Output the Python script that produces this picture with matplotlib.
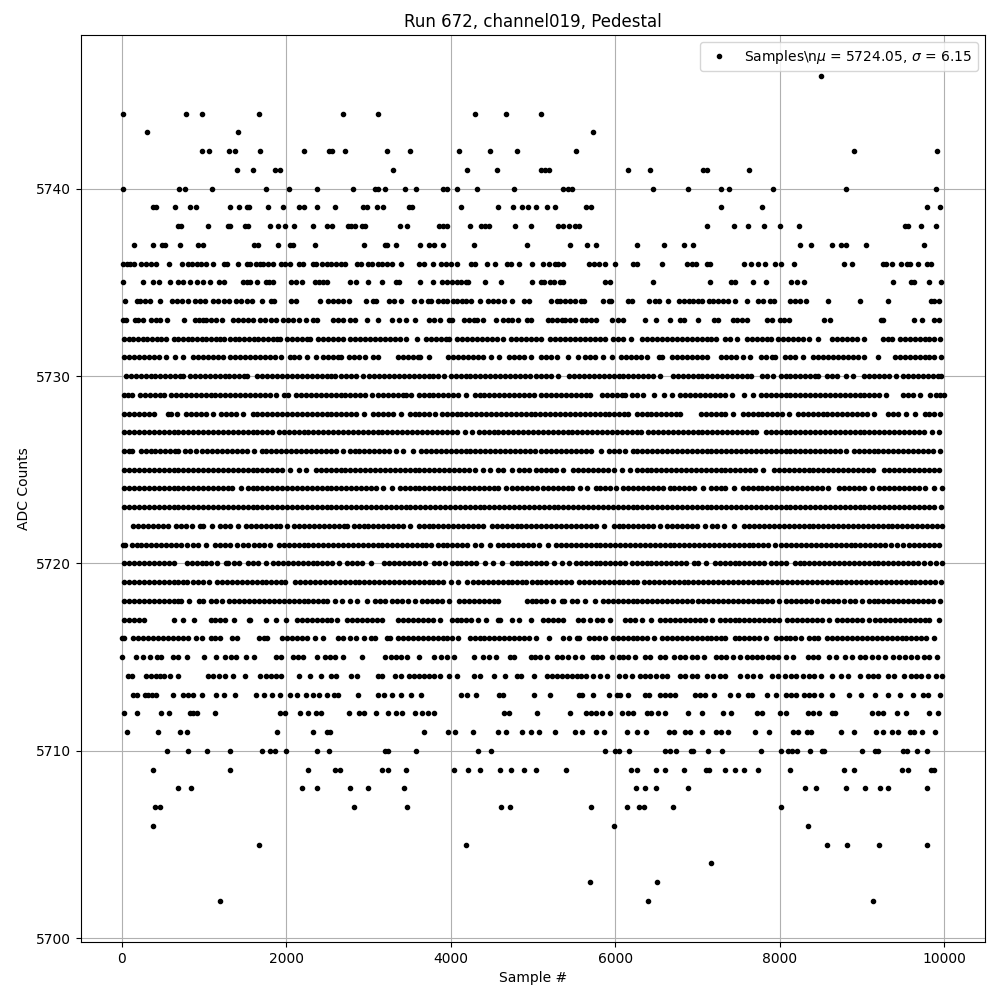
import matplotlib
matplotlib.use("Agg")
import matplotlib.pyplot as plt

# Sample numbers are stored in tens of samples, one list per ADC level.
adc_5746 = [850.5]
adc_5744 = [1, 78, 97, 167, 269, 312, 430, 467, 510]
adc_5743 = [31, 141, 573]
adc_5742 = [97, 106, 130, 138, 168, 221, 252, 256, 271, 322, 350, 410, 448, 481, 552, 890, 991]
adc_5741 = [140, 160, 186, 192, 330, 420, 456, 510, 514, 519, 615, 642, 707, 712, 762]
adc_5740 = [1, 70, 77, 110, 175, 203, 238, 281, 308, 312, 320, 344, 358, 391, 396, 408, 432, 477, 537, 543, 548, 646, 689, 729, 738, 792, 881, 990]
adc_5739 = [38, 42, 65, 83, 90, 132, 143, 152, 155, 178, 196, 215, 221, 238, 259, 293, 298, 310, 318, 349, 353, 413, 458, 476, 487, 494, 504, 517, 527, 564, 570, 728, 778, 979, 995]
adc_5738 = [68, 72, 105, 129, 132, 150, 154, 180, 190, 198, 209, 232, 250, 256, 275, 279, 283, 292, 296, 338, 347, 386, 391, 396, 423, 437, 442, 446, 478, 498, 531, 537, 544, 551, 556, 712, 744, 761, 781, 800, 823, 952, 956, 972, 990]
adc_5737 = [15, 38, 49, 53, 71, 93, 99, 161, 166, 190, 204, 208, 235, 295, 320, 323, 333, 363, 373, 380, 390, 428, 493, 545, 566, 577, 626, 659, 683, 694, 825, 838, 864, 874, 880, 905, 975]
adc_5736 = [2, 6, 10, 15, 24, 30, 35, 42, 57, 73, 80, 85, 91, 96, 102, 111, 124, 128, 141, 152, 156, 163, 168, 172, 178, 184, 194, 199, 204, 216, 220, 232, 236, 244, 249, 255, 260, 267, 272, 286, 291, 299, 304, 311, 317, 323, 329, 340, 362, 368, 378, 388, 394, 400, 408, 425, 429, 444, 454, 468, 473, 483, 499, 512, 520, 527, 531, 537, 568, 574, 580, 588, 600, 621, 627, 657, 687, 693, 698, 711, 715, 757, 765, 774, 782, 794, 801, 817, 878, 888, 926, 929, 936, 947, 955, 958, 968, 979, 984]
adc_5735 = [2, 26, 38, 45, 59, 69, 74, 83, 92, 99, 107, 118, 124, 147, 152, 156, 164, 175, 179, 184, 206, 212, 219, 235, 240, 245, 250, 277, 285, 300, 316, 333, 337, 363, 378, 389, 396, 402, 407, 412, 418, 421, 442, 461, 499, 510, 513, 521, 526, 533, 537, 587, 594, 646, 715, 741, 746, 767, 783, 814, 821, 830, 938, 960, 963, 981, 996]
adc_5734 = [4, 18, 22, 28, 34, 47, 61, 67, 73, 80, 89, 95, 101, 111, 117, 124, 131, 139, 145, 152, 158, 170, 182, 185, 206, 212, 241, 251, 257, 263, 269, 276, 297, 305, 309, 325, 331, 339, 355, 364, 372, 376, 384, 390, 396, 403, 408, 414, 418, 425, 436, 445, 451, 458, 465, 475, 489, 495, 522, 529, 533, 539, 545, 551, 558, 562, 585, 592, 595, 616, 620, 641, 648, 653, 664, 677, 684, 690, 695, 701, 705, 714, 719, 725, 731, 737, 745, 760, 774, 780, 788, 793, 812, 818, 824, 832, 859, 897, 931, 984, 988, 993]
adc_5733 = [1, 5, 16, 20, 26, 36, 42, 47, 55, 76, 89, 94, 99, 103, 109, 115, 122, 135, 141, 148, 154, 160, 168, 174, 182, 187, 196, 202, 208, 215, 224, 232, 238, 257, 263, 269, 277, 284, 298, 311, 329, 337, 345, 357, 373, 380, 387, 398, 402, 416, 422, 428, 432, 439, 455, 463, 469, 475, 482, 493, 498, 518, 523, 529, 535, 539, 545, 551, 559, 564, 570, 577, 596, 603, 609, 636, 650, 667, 679, 684, 701, 720, 725, 743, 748, 754, 760, 784, 791, 800, 805, 811, 854, 861, 923, 926, 963, 973, 988, 993]
adc_5732 = [3, 9, 14, 20, 26, 31, 37, 43, 48, 54, 63, 69, 75, 80, 86, 92, 98, 103, 109, 115, 120, 124, 132, 138, 143, 149, 155, 161, 166, 172, 178, 184, 189, 193, 201, 207, 213, 219, 225, 229, 239, 245, 251, 257, 263, 269, 278, 284, 290, 296, 302, 308, 314, 320, 326, 332, 338, 345, 359, 370, 376, 382, 388, 394, 398, 408, 414, 420, 426, 432, 438, 444, 450, 456, 464, 473, 479, 485, 491, 497, 504, 510, 521, 527, 533, 539, 545, 551, 557, 563, 569, 575, 581, 587, 597, 603, 610, 619, 633, 639, 645, 651, 657, 663, 669, 675, 681, 687, 693, 699, 705, 711, 717, 722, 734, 740, 748, 760, 766, 772, 778, 784, 789, 798, 804, 810, 816, 822, 828, 835, 847, 864, 870, 876, 882, 888, 894, 902, 925, 931, 937, 946, 952, 958, 964, 970, 976, 982, 988, 995]
adc_5731 = [3, 9, 15, 21, 27, 33, 39, 45, 54, 65, 75, 87, 93, 99, 105, 111, 117, 123, 132, 138, 144, 150, 156, 162, 168, 174, 180, 186, 194, 204, 210, 216, 225, 236, 245, 251, 257, 263, 267, 276, 282, 288, 296, 306, 312, 336, 342, 348, 354, 360, 363, 373, 397, 403, 409, 415, 421, 427, 433, 439, 449, 459, 471, 477, 483, 489, 498, 510, 516, 522, 529, 543, 555, 563, 569, 575, 585, 596, 607, 613, 619, 625, 631, 638, 653, 657, 669, 675, 681, 687, 693, 699, 705, 711, 729, 735, 741, 747, 755, 764, 777, 783, 790, 794, 806, 812, 819, 828, 841, 847, 853, 859, 865, 871, 877, 883, 889, 895, 902, 920, 940, 946, 952, 958, 964, 970, 976, 982, 987, 996]
adc_5730 = [5, 11, 17, 23, 29, 35, 41, 47, 53, 59, 65, 71, 75, 83, 89, 95, 101, 107, 113, 119, 125, 131, 137, 143, 149, 152, 165, 171, 177, 183, 189, 195, 201, 207, 213, 219, 225, 231, 237, 243, 249, 255, 259, 267, 273, 279, 285, 293, 301, 307, 313, 319, 325, 331, 337, 343, 349, 355, 361, 367, 373, 379, 385, 392, 400, 406, 412, 418, 424, 430, 436, 442, 448, 454, 460, 466, 472, 478, 484, 490, 496, 504, 510, 516, 522, 530, 544, 550, 556, 562, 568, 574, 580, 586, 592, 598, 604, 610, 616, 622, 628, 634, 640, 646, 654, 670, 676, 682, 688, 694, 700, 706, 712, 718, 724, 730, 736, 742, 748, 754, 760, 765, 778, 784, 792, 801, 807, 813, 819, 825, 831, 837, 843, 847, 857, 863, 870, 881, 889, 903, 909, 915, 921, 927, 933, 941, 950, 956, 962, 968, 974, 980, 986, 992, 996]
adc_5729 = [3, 8, 13, 22, 28, 34, 40, 46, 52, 60, 66, 72, 78, 84, 90, 96, 102, 108, 114, 120, 126, 132, 138, 144, 150, 156, 162, 168, 174, 180, 187, 197, 202, 212, 218, 224, 230, 236, 242, 248, 254, 260, 266, 272, 278, 284, 290, 296, 304, 312, 318, 324, 330, 336, 342, 346, 352, 361, 367, 373, 379, 385, 391, 397, 403, 409, 419, 429, 435, 441, 447, 453, 459, 465, 471, 477, 483, 489, 495, 501, 510, 516, 522, 528, 534, 540, 546, 552, 558, 564, 569, 584, 590, 596, 602, 608, 612, 620, 626, 634, 647, 659, 669, 679, 685, 691, 697, 703, 709, 715, 721, 727, 733, 742, 757, 767, 777, 783, 789, 795, 801, 807, 813, 819, 825, 831, 837, 843, 849, 855, 861, 867, 873, 879, 885, 891, 897, 903, 909, 915, 921, 929, 950, 956, 962, 971, 983, 990, 995, 1000]
adc_5728 = [3, 9, 15, 21, 27, 33, 39, 56, 60, 67, 78, 84, 90, 96, 102, 111, 121, 127, 133, 139, 148, 159, 165, 171, 177, 183, 189, 195, 201, 207, 213, 219, 225, 231, 237, 243, 249, 255, 261, 267, 273, 279, 285, 294, 306, 312, 318, 324, 330, 340, 350, 356, 362, 368, 374, 381, 389, 395, 401, 407, 413, 419, 425, 431, 437, 443, 449, 455, 461, 467, 473, 479, 485, 491, 497, 503, 509, 515, 521, 527, 533, 539, 545, 551, 557, 563, 569, 575, 581, 587, 593, 599, 605, 611, 616, 626, 632, 638, 644, 650, 656, 662, 668, 674, 679, 704, 710, 716, 722, 728, 734, 743, 755, 761, 767, 773, 779, 785, 791, 797, 803, 811, 822, 828, 834, 840, 846, 852, 858, 864, 870, 876, 882, 888, 894, 900, 906, 915, 932, 938, 944, 954, 965, 976, 982, 988, 995]
adc_5727 = [3, 9, 15, 21, 27, 33, 39, 45, 51, 57, 63, 69, 75, 81, 87, 93, 99, 105, 111, 117, 123, 129, 135, 141, 147, 153, 159, 165, 171, 177, 183, 191, 197, 203, 209, 215, 221, 227, 233, 239, 245, 251, 257, 263, 269, 275, 281, 287, 293, 299, 305, 311, 317, 323, 329, 335, 341, 347, 353, 359, 365, 371, 377, 383, 389, 395, 401, 407, 417, 426, 434, 440, 446, 452, 458, 464, 470, 476, 482, 488, 494, 500, 506, 512, 518, 524, 530, 536, 542, 548, 554, 560, 566, 572, 578, 584, 590, 596, 602, 608, 614, 620, 626, 631, 640, 646, 652, 658, 664, 670, 676, 682, 688, 694, 700, 706, 712, 718, 724, 730, 736, 742, 748, 754, 760, 766, 771, 783, 789, 795, 801, 807, 813, 819, 825, 831, 837, 843, 849, 855, 861, 867, 873, 879, 885, 891, 897, 903, 909, 915, 921, 927, 933, 939, 945, 951, 957, 963, 969, 975, 985, 994]
adc_5726 = [3, 9, 13, 23, 29, 35, 41, 47, 53, 59, 65, 68, 77, 83, 90, 98, 104, 110, 116, 122, 128, 134, 140, 146, 152, 161, 170, 176, 182, 188, 194, 200, 206, 212, 218, 224, 230, 236, 242, 248, 254, 260, 269, 277, 283, 289, 295, 301, 307, 313, 319, 325, 333, 342, 354, 364, 370, 376, 382, 388, 394, 400, 406, 412, 418, 424, 430, 436, 442, 448, 454, 460, 466, 472, 478, 484, 490, 496, 502, 510, 516, 522, 528, 534, 540, 546, 552, 558, 564, 571, 583, 593, 599, 605, 612, 621, 627, 633, 639, 645, 651, 657, 663, 669, 675, 681, 687, 693, 699, 705, 711, 717, 723, 729, 735, 741, 747, 753, 759, 765, 771, 777, 783, 789, 795, 801, 807, 813, 819, 825, 831, 837, 843, 849, 855, 861, 867, 873, 881, 890, 896, 902, 908, 914, 920, 926, 932, 938, 944, 950, 956, 962, 968, 974, 980, 986, 995]
adc_5725 = [3, 9, 15, 21, 27, 33, 39, 45, 51, 57, 63, 69, 75, 81, 87, 93, 99, 105, 111, 117, 123, 129, 135, 141, 147, 153, 159, 165, 171, 177, 183, 189, 195, 204, 215, 224, 236, 242, 248, 254, 260, 266, 272, 278, 284, 290, 296, 302, 308, 314, 320, 326, 332, 338, 344, 350, 356, 362, 368, 374, 380, 386, 392, 398, 404, 410, 416, 422, 430, 439, 448, 458, 464, 475, 483, 489, 495, 504, 510, 516, 522, 528, 536, 549, 555, 561, 567, 573, 579, 585, 591, 599, 608, 618, 626, 632, 638, 644, 650, 656, 662, 668, 674, 680, 686, 692, 698, 704, 710, 716, 722, 728, 734, 740, 746, 752, 758, 764, 770, 780, 793, 799, 805, 811, 817, 823, 829, 835, 841, 847, 853, 859, 865, 871, 877, 883, 889, 895, 901, 907, 913, 927, 933, 939, 945, 951, 957, 963, 969, 975, 981, 987, 994]
adc_5724 = [3, 9, 15, 21, 27, 33, 39, 45, 51, 57, 63, 69, 75, 81, 87, 93, 99, 105, 111, 117, 123, 129, 134, 145, 153, 159, 165, 171, 177, 183, 189, 195, 201, 207, 213, 219, 225, 231, 237, 243, 249, 255, 261, 267, 273, 279, 285, 291, 297, 303, 309, 318, 328, 338, 344, 350, 356, 362, 368, 374, 380, 386, 392, 398, 404, 410, 416, 422, 428, 434, 440, 446, 452, 458, 467, 475, 481, 487, 493, 499, 505, 512, 518, 524, 530, 536, 542, 548, 557, 566, 576, 582, 588, 594, 601, 610, 616, 622, 628, 634, 640, 646, 652, 658, 666, 672, 678, 684, 690, 696, 707, 716, 722, 728, 734, 744, 755, 761, 767, 773, 779, 785, 791, 797, 803, 809, 815, 821, 827, 833, 839, 845, 851, 859, 872, 878, 884, 890, 896, 902, 912, 921, 927, 933, 939, 945, 951, 957, 963, 969, 977, 987, 997]
adc_5723 = [3, 9, 15, 21, 27, 33, 39, 45, 51, 57, 63, 69, 75, 81, 87, 93, 99, 105, 111, 117, 123, 129, 135, 141, 147, 153, 159, 165, 171, 177, 183, 189, 195, 201, 207, 213, 219, 225, 231, 237, 243, 249, 255, 261, 267, 273, 279, 285, 291, 297, 303, 309, 315, 321, 327, 333, 339, 345, 351, 357, 363, 369, 375, 381, 387, 393, 399, 405, 411, 417, 423, 429, 435, 441, 447, 453, 459, 465, 471, 477, 483, 489, 495, 501, 507, 513, 519, 525, 531, 537, 543, 549, 555, 561, 567, 573, 579, 585, 591, 597, 603, 609, 615, 621, 627, 633, 639, 645, 651, 657, 663, 669, 675, 681, 687, 693, 699, 705, 711, 717, 723, 729, 735, 741, 747, 753, 759, 765, 771, 777, 783, 789, 795, 801, 807, 813, 819, 825, 831, 837, 843, 849, 855, 861, 867, 873, 879, 885, 891, 897, 903, 909, 915, 921, 927, 933, 939, 945, 951, 957, 963, 969, 975, 981, 987, 996]
adc_5722 = [14, 20, 26, 32, 38, 44, 50, 56, 66, 72, 78, 86, 95, 99, 110, 120, 126, 132, 141, 151, 157, 163, 169, 175, 181, 187, 193, 201, 210, 216, 222, 228, 234, 240, 246, 252, 258, 264, 270, 274, 282, 288, 294, 300, 306, 312, 318, 324, 330, 336, 342, 351, 361, 367, 373, 379, 385, 391, 397, 403, 409, 415, 421, 427, 433, 439, 450, 456, 462, 468, 474, 480, 486, 492, 498, 504, 510, 516, 522, 528, 534, 540, 546, 552, 558, 564, 570, 576, 586, 598, 604, 610, 616, 622, 628, 634, 640, 646, 654, 663, 669, 675, 681, 687, 693, 699, 709, 718, 724, 732, 744, 757, 763, 769, 775, 781, 787, 793, 799, 805, 811, 817, 823, 829, 835, 841, 847, 853, 859, 865, 871, 877, 883, 889, 895, 901, 907, 913, 919, 925, 931, 937, 943, 949, 955, 961, 967, 973, 979, 985, 991, 997]
adc_5721 = [1, 4, 12, 18, 24, 30, 36, 42, 48, 54, 60, 66, 72, 79, 87, 93, 102, 114, 120, 126, 132, 140, 148, 153, 161, 167, 173, 180, 191, 197, 203, 209, 215, 221, 227, 233, 239, 245, 251, 257, 263, 269, 275, 281, 287, 293, 299, 305, 311, 317, 323, 329, 335, 341, 347, 353, 359, 365, 370, 376, 384, 390, 396, 402, 408, 414, 420, 429, 437, 448, 458, 464, 470, 476, 482, 488, 494, 500, 507, 518, 528, 534, 540, 546, 552, 558, 564, 570, 576, 582, 588, 594, 600, 606, 612, 618, 624, 630, 636, 642, 648, 654, 660, 666, 672, 678, 684, 690, 696, 702, 708, 714, 720, 726, 732, 738, 744, 750, 756, 762, 768, 774, 780, 786, 794, 802, 808, 814, 820, 826, 832, 838, 844, 850, 856, 862, 868, 874, 880, 886, 892, 898, 904, 910, 916, 922, 928, 935, 943, 950, 957, 963, 969, 975, 981, 987, 994]
adc_5720 = [3, 9, 15, 21, 27, 33, 39, 45, 51, 57, 64, 79, 85, 91, 97, 103, 109, 116, 127, 129, 137, 142, 154, 160, 166, 175, 184, 190, 196, 202, 208, 214, 220, 226, 232, 238, 244, 250, 256, 264, 274, 280, 286, 292, 303, 319, 325, 331, 337, 343, 349, 355, 361, 369, 380, 386, 393, 401, 407, 413, 419, 425, 431, 442, 451, 462, 474, 480, 486, 492, 498, 504, 510, 516, 526, 535, 544, 552, 558, 564, 570, 576, 582, 588, 594, 600, 606, 612, 620, 626, 632, 638, 644, 650, 656, 662, 668, 674, 680, 686, 696, 701, 710, 721, 727, 733, 739, 745, 751, 757, 763, 769, 775, 781, 789, 795, 801, 808, 818, 824, 830, 836, 842, 848, 854, 860, 866, 872, 878, 884, 890, 896, 902, 908, 914, 920, 926, 932, 938, 944, 950, 956, 962, 968, 975, 983, 990, 997]
adc_5719 = [3, 9, 15, 21, 27, 33, 39, 45, 51, 57, 63, 69, 75, 79, 87, 93, 99, 106, 116, 122, 128, 134, 140, 146, 152, 158, 164, 170, 176, 182, 188, 194, 199, 211, 217, 223, 229, 235, 241, 247, 253, 259, 265, 271, 277, 283, 289, 295, 301, 307, 313, 319, 325, 331, 337, 343, 349, 355, 361, 367, 373, 379, 385, 391, 400, 409, 420, 427, 433, 439, 445, 451, 457, 463, 469, 475, 481, 487, 491, 499, 505, 510, 516, 522, 528, 534, 540, 546, 556, 562, 568, 574, 580, 586, 592, 598, 604, 610, 616, 622, 627, 635, 641, 647, 653, 659, 665, 671, 677, 683, 689, 695, 701, 707, 713, 719, 725, 731, 737, 743, 749, 755, 761, 767, 773, 779, 785, 791, 797, 803, 809, 815, 821, 827, 833, 839, 845, 851, 857, 863, 869, 875, 881, 887, 893, 899, 905, 911, 917, 923, 929, 935, 941, 947, 953, 959, 965, 971, 977, 983, 989, 996]
adc_5718 = [3, 9, 15, 21, 27, 33, 39, 45, 51, 57, 63, 69, 72, 82, 94, 99, 109, 115, 122, 131, 137, 143, 149, 155, 161, 167, 173, 179, 185, 191, 197, 203, 209, 215, 221, 227, 233, 239, 245, 249, 259, 268, 278, 286, 298, 308, 314, 320, 329, 335, 341, 348, 356, 365, 371, 377, 383, 389, 398, 410, 416, 422, 428, 434, 440, 446, 452, 458, 493, 499, 504, 510, 516, 524, 535, 538, 548, 554, 563, 575, 585, 591, 597, 603, 609, 615, 621, 627, 633, 639, 645, 651, 657, 663, 669, 675, 681, 687, 693, 701, 707, 713, 719, 725, 731, 737, 743, 749, 755, 761, 767, 773, 779, 785, 791, 799, 808, 814, 820, 826, 832, 838, 845, 853, 859, 865, 871, 878, 885, 892, 900, 908, 914, 920, 926, 932, 938, 944, 950, 956, 962, 968, 974, 980, 986, 995]
adc_5717 = [3, 9, 15, 21, 27, 63, 74, 88, 108, 114, 120, 125, 137, 155, 156, 176, 188, 200, 213, 219, 225, 231, 237, 243, 249, 255, 262, 274, 280, 286, 292, 298, 304, 310, 316, 336, 342, 348, 354, 360, 366, 372, 379, 387, 401, 407, 413, 419, 425, 433, 443, 457, 460, 475, 483, 498, 512, 518, 524, 530, 536, 555, 561, 569, 578, 584, 594, 612, 618, 624, 633, 644, 655, 661, 667, 673, 679, 685, 691, 697, 703, 709, 718, 727, 733, 739, 745, 751, 757, 763, 769, 775, 781, 787, 793, 799, 809, 815, 821, 827, 833, 839, 845, 851, 860, 870, 876, 882, 888, 894, 900, 908, 916, 922, 928, 934, 940, 946, 952, 958, 964, 970, 976, 982, 993]
adc_5716 = [0, 3, 14, 20, 26, 32, 38, 44, 50, 56, 62, 68, 74, 80, 90, 98, 108, 114, 120, 134, 140, 167, 173, 177, 195, 201, 207, 213, 219, 225, 235, 245, 263, 269, 278, 285, 295, 303, 308, 322, 326, 336, 342, 348, 354, 360, 366, 372, 378, 384, 390, 396, 402, 409, 423, 429, 435, 441, 447, 453, 459, 465, 471, 477, 483, 489, 495, 504, 520, 536, 544, 554, 556, 568, 574, 580, 587, 597, 603, 609, 615, 621, 627, 633, 639, 647, 657, 663, 669, 675, 681, 687, 693, 699, 705, 711, 717, 723, 729, 734, 745, 751, 757, 763, 769, 775, 783, 795, 801, 807, 813, 819, 826, 836, 842, 847, 858, 864, 870, 876, 882, 888, 894, 900, 906, 912, 918, 924, 930, 936, 942, 948, 954, 960, 966, 972, 978, 987]
adc_5715 = [0, 17, 26, 34, 43, 48, 62, 69, 79, 100, 115, 125, 133, 139, 151, 161, 188, 194, 208, 214, 220, 238, 247, 253, 259, 269, 292, 320, 327, 333, 339, 347, 362, 380, 388, 396, 404, 428, 439, 447, 455, 472, 477, 497, 503, 509, 517, 529, 535, 543, 551, 560, 573, 578, 584, 596, 604, 610, 616, 624, 636, 642, 654, 660, 671, 679, 685, 693, 699, 708, 723, 729, 735, 743, 752, 760, 766, 772, 778, 786, 792, 798, 808, 816, 834, 840, 847, 860, 868, 879, 888, 898, 904, 912, 920, 928, 938, 945, 952, 959, 967, 975, 981, 991]
adc_5714 = [8, 12, 30, 36, 42, 46, 52, 59, 69, 105, 111, 118, 126, 135, 150, 168, 176, 181, 188, 194, 215, 229, 242, 255, 261, 279, 286, 311, 317, 332, 339, 349, 355, 362, 368, 374, 380, 387, 398, 408, 428, 436, 452, 466, 481, 485, 501, 517, 523, 529, 535, 541, 547, 554, 558, 564, 573, 582, 590, 604, 612, 620, 630, 636, 642, 650, 657, 663, 679, 685, 693, 699, 711, 719, 727, 733, 752, 760, 768, 776, 790, 798, 806, 814, 820, 828, 836, 842, 850, 863, 875, 883, 897, 907, 913, 919, 931, 939, 951, 959, 966, 972, 980, 990, 997]
adc_5713 = [14, 19, 28, 32, 37, 42, 62, 74, 80, 87, 98, 115, 124, 138, 163, 173, 183, 192, 205, 213, 224, 232, 240, 249, 258, 263, 287, 311, 319, 328, 340, 352, 364, 413, 420, 431, 459, 463, 501, 521, 556, 560, 573, 593, 602, 606, 615, 636, 641, 654, 660, 667, 673, 697, 703, 709, 720, 740, 749, 761, 766, 785, 795, 808, 814, 820, 830, 836, 842, 850, 864, 884, 899, 916, 931, 946, 962, 974, 980, 995]
adc_5712 = [3, 19, 48, 57, 83, 87, 92, 114, 192, 198, 217, 227, 236, 242, 276, 289, 295, 309, 324, 333, 341, 357, 365, 372, 380, 465, 471, 505, 545, 564, 570, 576, 584, 594, 608, 616, 622, 638, 644, 652, 660, 689, 706, 731, 741, 772, 778, 800, 808, 834, 840, 848, 863, 867, 912, 919, 925, 943, 953, 982, 992]
adc_5711 = [6, 44, 71, 79, 189, 232, 250, 253, 368, 397, 405, 427, 457, 467, 487, 498, 507, 527, 551, 560, 576, 586, 614, 626, 637, 665, 671, 685, 691, 706, 723, 729, 737, 770, 787, 816, 822, 833, 838, 874, 890, 917, 926, 937, 944, 958, 963, 973, 989]
adc_5710 = [55, 80, 104, 132, 170, 180, 186, 200, 237, 252, 320, 324, 358, 433, 449, 587, 600, 604, 617, 660, 667, 674, 692, 695, 713, 730, 777, 802, 810, 815, 821, 837, 851, 854, 900, 916, 919, 950, 955, 967, 979]
adc_5709 = [38, 132, 226, 259, 265, 317, 324, 345, 404, 421, 435, 460, 473, 489, 504, 540, 619, 626, 649, 660, 683, 710, 714, 733, 745, 757, 773, 812, 878, 890, 949, 956, 984, 987]
adc_5708 = [69, 84, 219, 238, 277, 299, 343, 625, 636, 650, 689, 831, 844, 880, 904, 922, 931, 979]
adc_5707 = [40, 46, 282, 347, 461, 472, 570, 614, 629, 635, 670, 801]
adc_5706 = [38, 598, 834]
adc_5705 = [167, 419, 857, 882, 921, 979]
adc_5704 = [717]
adc_5703 = [569, 651]
adc_5702 = [120, 640, 913]

levels = [
    (5746, adc_5746), (5744, adc_5744), (5743, adc_5743), (5742, adc_5742),
    (5741, adc_5741), (5740, adc_5740), (5739, adc_5739), (5738, adc_5738),
    (5737, adc_5737), (5736, adc_5736), (5735, adc_5735), (5734, adc_5734),
    (5733, adc_5733), (5732, adc_5732), (5731, adc_5731), (5730, adc_5730),
    (5729, adc_5729), (5728, adc_5728), (5727, adc_5727), (5726, adc_5726),
    (5725, adc_5725), (5724, adc_5724), (5723, adc_5723), (5722, adc_5722),
    (5721, adc_5721), (5720, adc_5720), (5719, adc_5719), (5718, adc_5718),
    (5717, adc_5717), (5716, adc_5716), (5715, adc_5715), (5714, adc_5714),
    (5713, adc_5713), (5712, adc_5712), (5711, adc_5711), (5710, adc_5710),
    (5709, adc_5709), (5708, adc_5708), (5707, adc_5707), (5706, adc_5706),
    (5705, adc_5705), (5704, adc_5704), (5703, adc_5703), (5702, adc_5702),
]

xs, ys = [], []
for level, samples in levels:
    for s in samples:
        xs.append(s * 10)
        ys.append(level)

fig, ax = plt.subplots(figsize=(10, 10), dpi=100)
ax.plot(xs, ys, linestyle="none", marker=".", color="black", markersize=6,
        label="Samples\\n$\\mu$ = 5724.05, $\\sigma$ = 6.15")
ax.set_xlim(-495, 10495)
ax.set_title("Run 672, channel019, Pedestal")
ax.set_xlabel("Sample #")
ax.set_ylabel("ADC Counts")
ax.grid(True)
ax.legend(loc="upper right")
fig.subplots_adjust(left=0.081, right=0.985, top=0.965, bottom=0.058)
fig.savefig("out.png", dpi=100)
